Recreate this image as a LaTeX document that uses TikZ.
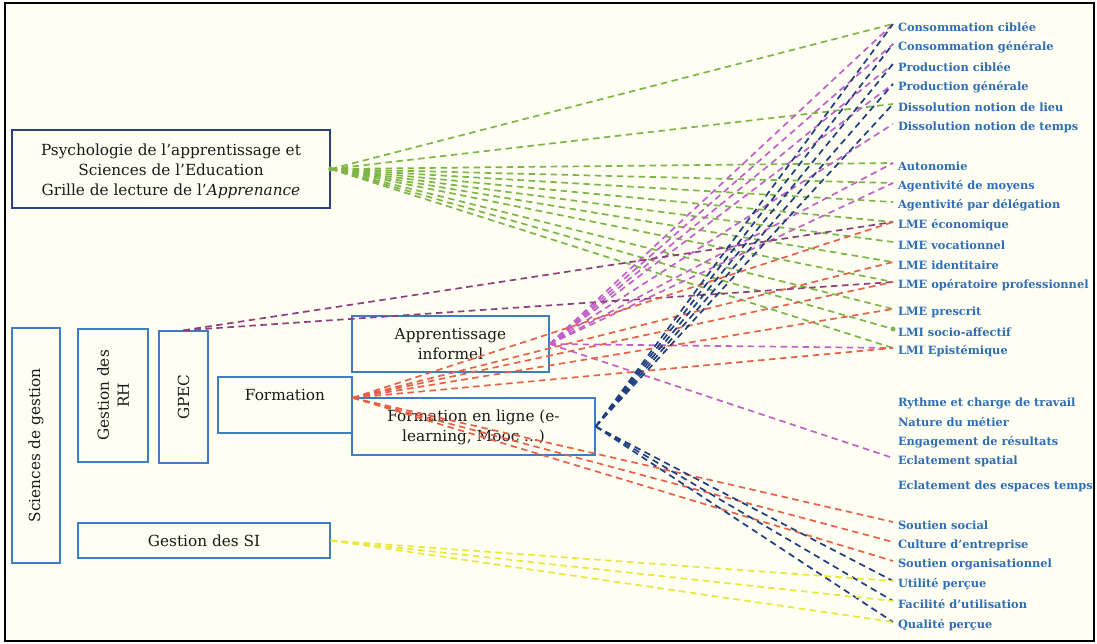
\documentclass[tikz,border=0pt]{standalone}
\usepackage{fontspec}
\setmainfont{DejaVu Serif}
\usetikzlibrary{calc}
\definecolor{bgc}{HTML}{FFFEF3}
\definecolor{boxc}{HTML}{3C7DC4}
\definecolor{psyc}{HTML}{2B3F8C}
\definecolor{labc}{HTML}{2F6EB5}
\definecolor{txtc}{HTML}{1A1A1A}
\definecolor{gc}{HTML}{7DB548}
\definecolor{mc}{HTML}{C262C8}
\definecolor{pc}{HTML}{8E3E7E}
\definecolor{rc}{HTML}{E8604A}
\definecolor{nc}{HTML}{1F3F80}
\definecolor{yc}{HTML}{E9E83A}
\tikzset{
  box/.style={draw=boxc, line width=1.4pt, inner sep=0pt},
  btxt/.style={text=txtc, font=\fontsize{15.3}{20}\selectfont, align=center, inner sep=0pt},
  lab/.style={anchor=west, text=labc, font=\fontsize{11.4}{13}\selectfont\bfseries, inner sep=0pt, outer sep=0pt},
  conn/.style={line width=1.7pt, dash pattern=on 6.5pt off 4.5pt},
  gline/.style={conn, draw=gc},
  mline/.style={conn, draw=mc},
  pline/.style={conn, draw=pc},
  rline/.style={conn, draw=rc},
  nline/.style={conn, draw=nc},
  yline/.style={conn, draw=yc},
}
\begin{document}
\begin{tikzpicture}[x=1pt,y=-1pt]
\useasboundingbox (0,0) rectangle (1097,644);
\fill[white] (0,0) rectangle (1097,644);
\fill[bgc] (5,3) rectangle (1094,641);
\draw[black, line width=2pt] (5,3) rectangle (1094,641);

% boxes
\node[box, draw=psyc, minimum width=318pt, minimum height=78pt] (psy) at (171,169) {};
\node[btxt] at (171,171) {Psychologie de l’apprentissage et\\Sciences de l’Education\\Grille de lecture de l’\textit{Apprenance}};
\node[box, minimum width=48pt, minimum height=235pt] (sg) at (36,445.5) {};
\node[btxt, rotate=90] at (sg.center) {Sciences de gestion};
\node[box, minimum width=70pt, minimum height=133pt] (rh) at (113,395.5) {};
\node[btxt, rotate=90] at (rh.center) {Gestion des\\RH};
\node[box, minimum width=49pt, minimum height=132pt] (gpec) at (183.5,397) {};
\node[btxt, rotate=90] at (gpec.center) {GPEC};
\node[box, minimum width=134pt, minimum height=56pt] (form) at (285,405) {};
\node[btxt] at (285,395) {Formation};
\node[box, minimum width=197pt, minimum height=56pt] (appr) at (450.5,344) {};
\node[btxt] at (450.5,344) {Apprentissage\\informel};
\node[box, minimum width=243pt, minimum height=57pt] (fel) at (473.5,426.5) {};
\node[btxt] at (473.5,427) {Formation en ligne (e-\\learning, Mooc ...)};
\node[box, minimum width=252pt, minimum height=35pt] (si) at (204,540.5) {};
\node[btxt] at (204,541) {Gestion des SI};

% labels
\foreach \n/\y/\t in {
 l1/27/Consommation ciblée, l2/47/Consommation générale, l3/67/Production ciblée,
 l4/87/Production générale, l5/107/Dissolution notion de lieu, l6/127/Dissolution notion de temps,
 l7/166/Autonomie, l8/186/Agentivité de moyens, l9/205/Agentivité par délégation,
 l10/225/LME économique, l11/245/LME vocationnel, l12/265/LME identitaire,
 l13/285/LME opératoire professionnel, l14/312/LME prescrit, l15/332/LMI socio-affectif,
 l16/351/LMI Epistémique, l17/403/Rythme et charge de travail, l18/422/Nature du métier,
 l19/442/Engagement de résultats, l20/461/Eclatement spatial, l21/486/Eclatement des espaces temps,
 l22/525/Soutien social, l23/545/Culture d’entreprise, l24/564/Soutien organisationnel,
 l25/584/Utilité perçue, l26/604/Facilité d’utilisation, l27/625/Qualité perçue}
 {\node[lab] (\n) at (898,\y) {\t};}

% source points
\coordinate (psyS) at (psy.east);
\coordinate (formS) at ($(form.north east)!0.375!(form.south east)$);
\coordinate (gpecS) at (gpec.north);

% connectors
\foreach \t in {l1,l5,l7,l8,l9,l10,l11,l12,l13,l14,l15,l16}
  \draw[gline] (psyS) -- ([xshift=-5pt,yshift=3pt]\t.west);
\foreach \t in {l1,l2,l3,l4,l6,l7,l8,l16,l20}
  \draw[mline] (appr.east) -- ([xshift=-5pt,yshift=3pt]\t.west);
\foreach \t in {l10,l13}
  \draw[pline] (gpecS) -- ([xshift=-5pt,yshift=3pt]\t.west);
\foreach \t in {l10,l12,l13,l14,l16,l22,l23,l24}
  \draw[rline] (formS) -- ([xshift=-5pt,yshift=3pt]\t.west);
\foreach \t in {l1,l2,l3,l4,l5,l25,l26,l27}
  \draw[nline] (fel.east) -- ([xshift=-5pt,yshift=3pt]\t.west);
\foreach \t in {l25,l26,l27}
  \draw[yline] (si.east) -- ([xshift=-5pt,yshift=3pt]\t.west);

\fill[gc] (psyS) circle (2.5pt);
\fill[gc] ([xshift=-5pt,yshift=3pt]l15.west) circle (2.5pt);
\end{tikzpicture}
\end{document}
